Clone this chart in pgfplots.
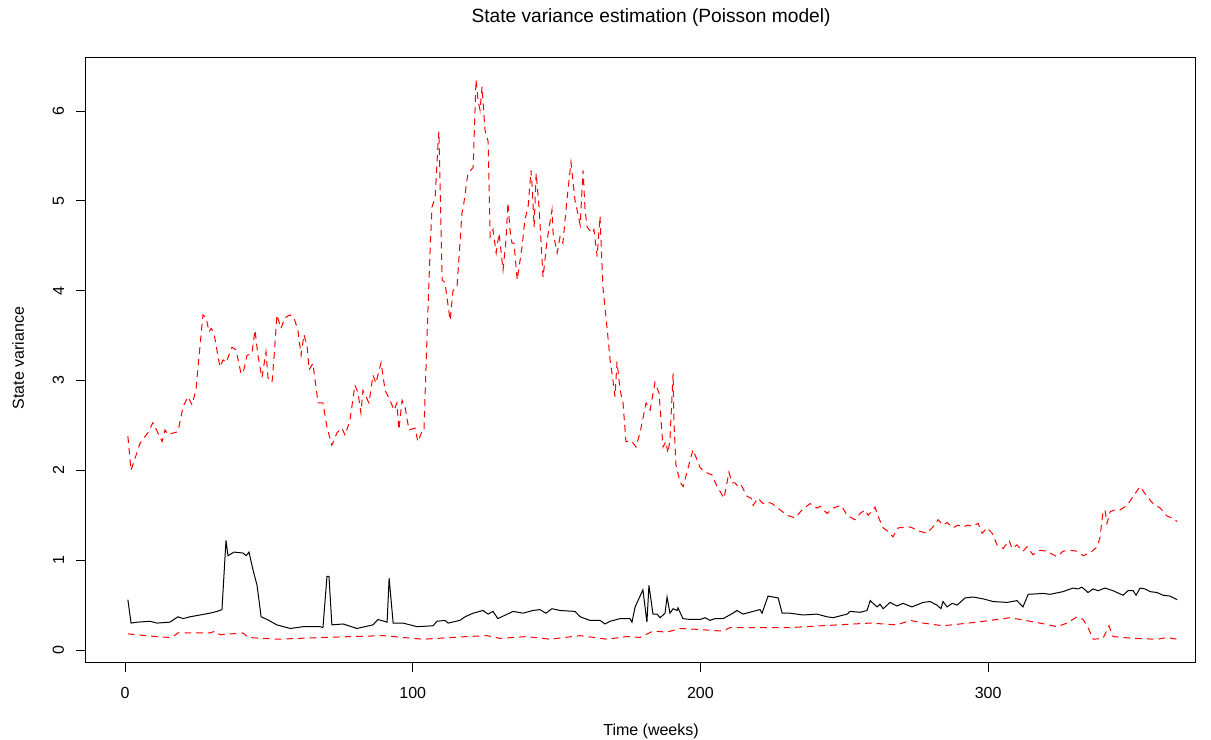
\documentclass[border=0pt]{standalone}
\usepackage{fontspec}
\setmainfont{Liberation Sans}
\usepackage{pgfplots}
\pgfplotsset{compat=1.18}
\begin{document}
\begin{tikzpicture}
\path[use as bounding box] (-51.42pt,-46.38pt) rectangle (675.18pt,397.62pt);
\begin{axis}[
  at={(0pt,0pt)}, anchor=south west,
  scale only axis, width=665.6pt, height=363.4pt,
  xmin=-13.66, xmax=371.9, ymin=-0.141, ymax=6.601,
  xtick={0,100,200,300}, ytick={0,1,2,3,4,5,6},
  tick align=outside, xtick pos=left, ytick pos=left,
  major tick length=5.6pt,
  axis line style={line width=0.6pt, black},
  every tick/.style={black, line width=0.6pt},
  tick label style={font=\fontsize{9.6}{11}\selectfont, inner sep=0pt},
  /pgf/number format/assume math mode=true,
  xticklabel style={anchor=north},
  yticklabel style={rotate=90, anchor=south},
  xticklabel shift=8.8pt, yticklabel shift=7.2pt,
  scaled ticks=false,
]
% upper red dashed
\addplot[red, line width=0.6pt, dash pattern=on 4pt off 3pt] coordinates {
(1,2.38)(2.1,2.0)(5.2,2.3)(8.0,2.42)(9.7,2.53)(12.9,2.32)(13.9,2.45)(14.9,2.4)(18.4,2.43)(20.2,2.71)(21.9,2.82)(23.3,2.73)(24.7,2.9)(25.7,3.26)(27.1,3.73)(28.2,3.7)(29.2,3.54)(29.9,3.58)(30.9,3.53)(33.0,3.15)(34.1,3.23)(35.1,3.2)(37.2,3.37)(38.6,3.34)(40.3,3.08)(41.0,3.08)(42.4,3.28)(44.1,3.3)(45.2,3.56)(46.2,3.28)(47.6,3.03)(49.0,3.32)(49.7,3.03)(51.1,2.98)(51.8,3.26)(52.8,3.73)(54.2,3.58)(55.6,3.7)(57.4,3.73)(58.7,3.7)(60.1,3.56)(61.2,3.28)(62.2,3.51)(63.3,3.38)(64.0,3.12)(65.3,3.19)(67.1,2.75)(68.8,2.75)(70.2,2.48)(71.9,2.28)(73.7,2.42)(75.4,2.47)(76.5,2.39)(78.2,2.56)(79.9,2.95)(81.0,2.86)(82.0,2.64)(82.7,2.89)(84.8,2.75)(86.2,3.06)(87.2,2.97)(89.0,3.2)(90.4,2.89)(92.1,2.78)(93.5,2.67)(94.5,2.75)(95.2,2.45)(96.3,2.78)(97.3,2.71)(98.7,2.45)(100.8,2.47)(101.8,2.32)(103.2,2.43)(103.9,2.43)(105.0,3.52)(106.0,4.42)(106.7,4.93)(107.8,5.04)(108.8,5.64)(109.1,5.77)(110.2,4.12)(111.2,4.09)(113.0,3.67)(114.0,4.0)(115.4,4.04)(117.1,4.86)(117.8,4.98)(119.2,5.31)(121.0,5.37)(122.0,6.35)(122.7,6.12)(123.4,6.01)(124.1,6.27)(125.1,5.79)(126.2,5.66)(126.9,4.6)(127.9,4.68)(129.0,4.42)(130.0,4.64)(131.4,4.23)(132.4,4.56)(133.1,4.98)(133.8,4.68)(134.5,4.53)(135.2,4.53)(136.3,4.12)(137.0,4.27)(138.0,4.49)(139.0,4.79)(140.1,4.93)(141.1,5.34)(141.5,5.16)(142.2,4.71)(142.9,5.31)(143.9,4.93)(145.3,4.15)(146.7,4.56)(148.4,4.9)(148.8,4.64)(150.2,4.42)(151.2,4.6)(152.2,4.53)(153.6,5.01)(155.0,5.43)(156.4,5.01)(158.2,4.73)(159.2,5.34)(159.9,4.9)(160.6,4.71)(162.3,4.64)(163.0,4.68)(164.1,4.38)(165.1,4.83)(166.1,4.04)(167.5,3.6)(168.6,3.23)(169.6,3.0)(170.3,2.82)(171.0,3.21)(172.1,2.89)(173.1,2.75)(174.1,2.32)(176.2,2.32)(177.6,2.26)(179.0,2.42)(181.1,2.75)(182.5,2.67)(184.2,2.98)(185.6,2.86)(187.0,2.26)(188.0,2.32)(188.7,2.19)(189.4,2.34)(190.5,3.08)(190.8,2.53)(191.5,2.06)(192.9,1.87)(194.0,1.82)(195.3,1.98)(197.4,2.23)(199.9,2.03)(201.6,1.98)(204.0,1.95)(205.8,1.82)(208.2,1.69)(209.2,1.86)(209.9,1.98)(211.0,1.86)(212.0,1.86)(213.1,1.82)(214.1,1.84)(216.2,1.71)(217.6,1.69)(218.3,1.61)(220.0,1.69)(221.8,1.63)(223.1,1.65)(224.9,1.63)(227.7,1.56)(230.1,1.5)(232.9,1.47)(235.3,1.56)(238.1,1.63)(240.5,1.58)(241.6,1.6)(244.0,1.52)(246.1,1.58)(248.9,1.61)(251.0,1.5)(253.7,1.45)(255.5,1.52)(257.2,1.56)(258.3,1.5)(260.7,1.59)(261.7,1.49)(263.5,1.36)(265.2,1.32)(266.9,1.26)(268.7,1.36)(272.9,1.37)(276.3,1.32)(278.8,1.3)(280.8,1.37)(282.6,1.45)(284.3,1.39)(285.7,1.42)(287.8,1.36)(289.5,1.39)(291.3,1.37)(293.0,1.39)(294.8,1.38)(296.5,1.41)(297.9,1.30)(299.6,1.36)(301.4,1.3)(303.1,1.17)(305.2,1.13)(307.3,1.22)(308.3,1.13)(310.0,1.17)(312.1,1.1)(313.5,1.15)(315.6,1.06)(318.0,1.11)(320.5,1.1)(322.6,1.06)(324.0,1.04)(326.0,1.1)(328.5,1.11)(330.9,1.1)(333.0,1.05)(335.4,1.08)(337.9,1.15)(338.9,1.26)(339.9,1.54)(340.6,1.56)(341.3,1.41)(342.4,1.54)(344.1,1.56)(345.8,1.56)(348.3,1.61)(350.4,1.71)(352.8,1.82)(355.2,1.71)(357.3,1.63)(359.8,1.58)(362.2,1.49)(363.9,1.47)(365.7,1.43)
};
% black solid
\addplot[black, line width=0.6pt] coordinates {
(1,0.56)(2.1,0.30)(4.2,0.31)(8.7,0.32)(11.1,0.30)(15.6,0.31)(18.4,0.37)(20.2,0.35)(22.6,0.37)(26.1,0.39)(29.5,0.41)(32.0,0.43)(33.7,0.45)(35.1,1.22)(35.8,1.05)(37.9,1.09)(41.0,1.08)(42.1,1.05)(43.1,1.09)(44.5,0.89)(45.9,0.72)(47.3,0.37)(49.4,0.34)(52.8,0.28)(57.4,0.24)(59.8,0.25)(61.9,0.26)(67.8,0.26)(68.8,0.25)(70.2,0.82)(70.9,0.82)(71.9,0.28)(75.8,0.29)(80.6,0.24)(86.2,0.28)(87.9,0.34)(91.1,0.31)(91.8,0.80)(93.2,0.30)(96.6,0.30)(99.1,0.28)(101.5,0.26)(107.1,0.27)(108.4,0.32)(111.2,0.33)(112.3,0.30)(116.4,0.33)(118.2,0.37)(121.0,0.41)(124.4,0.44)(126.2,0.40)(127.9,0.43)(129.6,0.35)(134.9,0.43)(138.3,0.41)(141.8,0.44)(144.2,0.45)(146.3,0.41)(148.4,0.46)(151.2,0.44)(156.4,0.43)(158.2,0.37)(161.6,0.33)(165.1,0.33)(166.8,0.29)(168.6,0.32)(172.1,0.35)(175.5,0.35)(176.2,0.31)(177.3,0.48)(178.3,0.55)(180.0,0.67)(181.4,0.31)(182.1,0.72)(183.5,0.40)(184.9,0.40)(186.0,0.36)(187.7,0.41)(188.4,0.59)(189.4,0.41)(190.5,0.46)(191.9,0.44)(192.2,0.47)(193.9,0.35)(196.4,0.34)(199.9,0.34)(201.6,0.36)(203.3,0.33)(205.1,0.35)(207.9,0.35)(211.3,0.41)(212.7,0.44)(214.8,0.40)(218.3,0.43)(220.7,0.45)(221.4,0.41)(223.5,0.60)(227.0,0.58)(228.4,0.41)(231.1,0.41)(235.7,0.39)(240.5,0.40)(244.0,0.37)(246.1,0.36)(251.0,0.40)(252.0,0.43)(255.5,0.42)(257.9,0.44)(259.0,0.55)(260.0,0.52)(261.4,0.48)(262.4,0.51)(263.5,0.46)(265.9,0.53)(268.3,0.49)(270.4,0.52)(273.5,0.48)(277.4,0.53)(279.8,0.54)(282.2,0.50)(283.6,0.46)(284.3,0.54)(285.7,0.48)(287.5,0.52)(289.2,0.50)(292.0,0.58)(294.8,0.59)(298.2,0.57)(301.7,0.54)(306.6,0.53)(310.0,0.55)(312.1,0.48)(313.9,0.62)(319.1,0.63)(321.5,0.62)(326.0,0.65)(329.5,0.69)(331.2,0.68)(332.6,0.70)(334.7,0.64)(336.5,0.68)(338.2,0.66)(340.6,0.69)(343.4,0.66)(346.9,0.61)(348.6,0.66)(350.4,0.66)(351.4,0.61)(352.8,0.69)(354.5,0.68)(356.3,0.65)(358.7,0.64)(360.8,0.61)(363.2,0.60)(365.7,0.56)
};
% lower red dashed
\addplot[red, line width=0.6pt, dash pattern=on 4pt off 3pt] coordinates {
(1,0.18)(12.2,0.145)(16.3,0.14)(18.4,0.19)(29.5,0.19)(31.3,0.21)(33.0,0.17)(41.0,0.19)(42.8,0.14)(52.8,0.12)(68.8,0.14)(89.7,0.16)(96.6,0.14)(103.6,0.12)(118.9,0.15)(125.8,0.16)(130.3,0.13)(139.7,0.15)(147.7,0.12)(158.2,0.16)(167.5,0.12)(174.5,0.15)(179.0,0.14)(183.5,0.21)(188.4,0.20)(192.9,0.24)(198.8,0.23)(207.9,0.21)(210.3,0.25)(231.1,0.25)(259.0,0.30)(268.3,0.28)(272.9,0.33)(277.4,0.30)(284.3,0.27)(296.1,0.31)(307.6,0.36)(318.0,0.30)(324.0,0.26)(327.4,0.30)(330.9,0.37)(333.0,0.34)(334.7,0.25)(336.5,0.12)(339.9,0.13)(342.0,0.27)(343.4,0.15)(350.4,0.13)(358.7,0.12)(362.2,0.14)(365.7,0.12)
};
\end{axis}
\node[font=\fontsize{11.5}{13}\selectfont] at (339.2pt,386.8pt) {State variance estimation (Poisson model)};
\node[font=\fontsize{9.6}{11}\selectfont] at (339.2pt,-41pt) {Time (weeks)};
\node[font=\fontsize{9.6}{11}\selectfont, rotate=90] at (-40.6pt,182.8pt) {State variance};
\end{tikzpicture}
\end{document}
